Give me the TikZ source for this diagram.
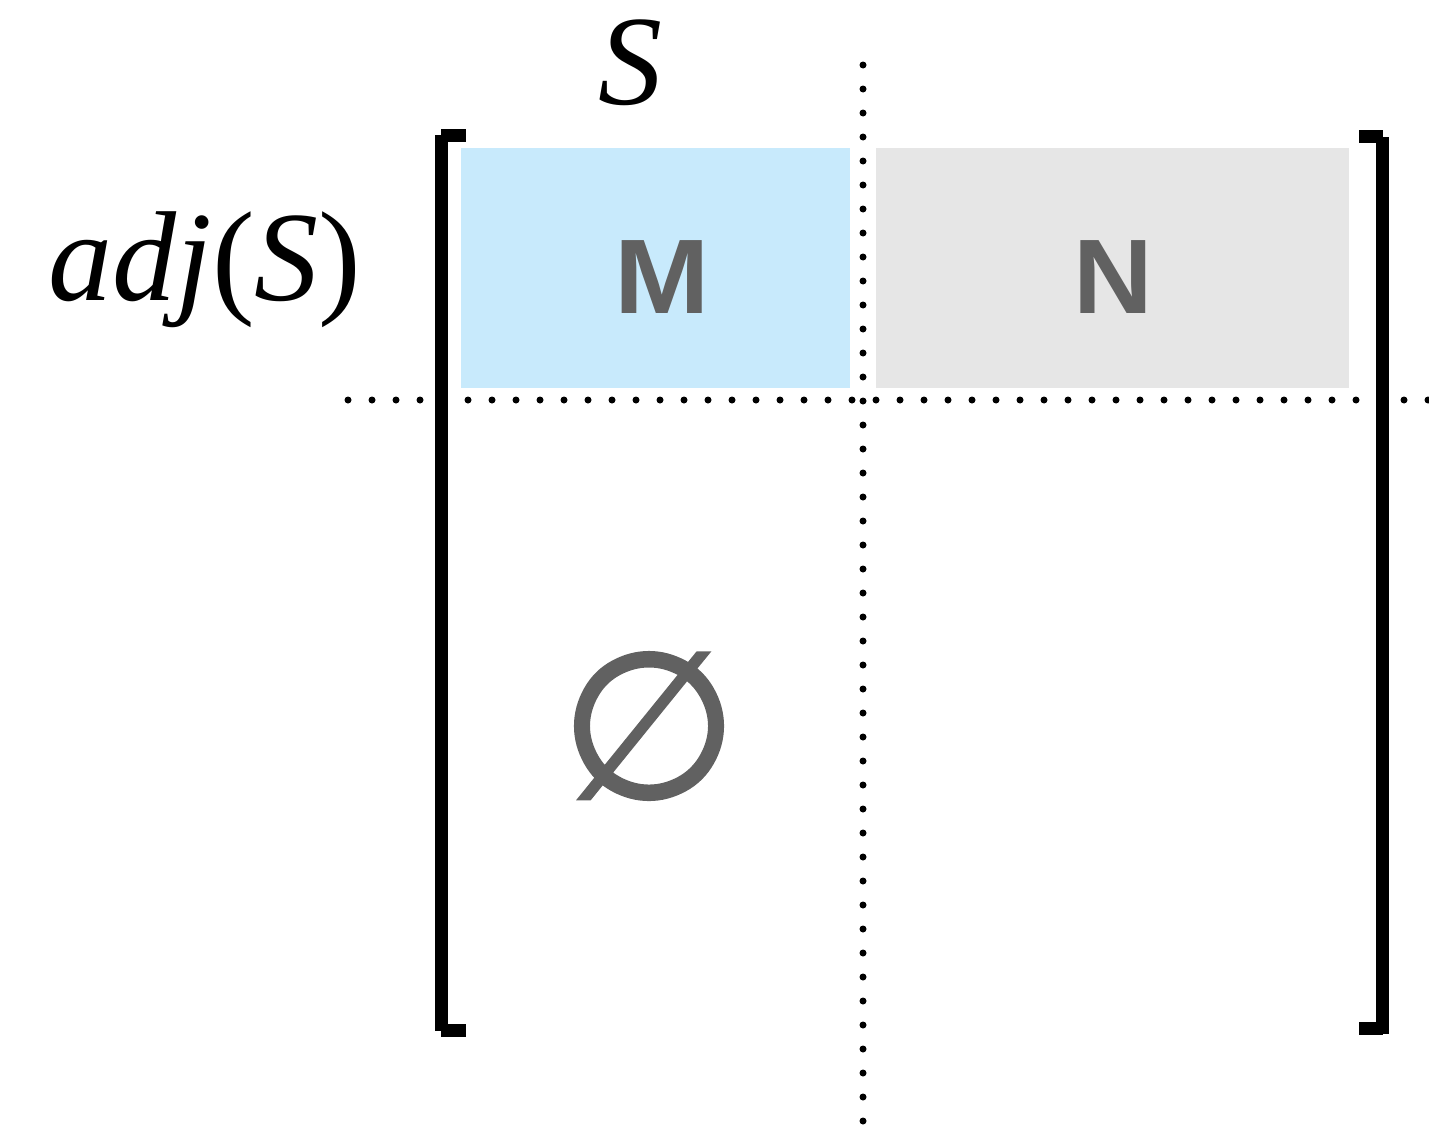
\documentclass[tikz,border=0pt]{standalone}
\usepackage{fontspec}
\setmainfont{Liberation Serif}
\newfontfamily\blocksans{Liberation Sans}
\newfontfamily\symsans[FakeBold=1.6]{DejaVu Sans}
\definecolor{cellblue}{RGB}{200,234,252}
\definecolor{cellgray}{RGB}{230,230,230}
\definecolor{inkgray}{RGB}{97,97,97}

\begin{document}
\begin{tikzpicture}[x=0.5pt,y=-0.5pt,
  cell/.style={draw=none, inner sep=0pt, minimum height=120pt},
  blocklabel/.style={inner sep=0pt, anchor=base, text=inkgray,
    font=\blocksans\bfseries\fontsize{53pt}{60pt}\selectfont},
  mathlabel/.style={inner sep=0pt, anchor=base,
    font=\fontsize{64pt}{72pt}\selectfont},
  dotline/.style={line width=3.5pt, line cap=round,
    dash pattern=on 0pt off 12pt},
  bracketbar/.style={fill=black, draw=none}]

\useasboundingbox (0,0) rectangle (1429,1124);

% blocks of the matrix
\node[cell, fill=cellblue, minimum width=194.5pt] (mblock) at (655.5,268) {};
\node[cell, fill=cellgray, minimum width=236.5pt] (nblock) at (1112.5,268) {};
\node[blocklabel, xscale=1.08] (mlabel) at (662,313) {M};
\node[blocklabel, xscale=1.04] (nlabel) at (1113,313) {N};

% empty lower-left block
\node[inner sep=0pt, text=inkgray, font=\symsans\fontsize{102pt}{110pt}\selectfont]
  (empty) at (649,726) {∅};

% row and column labels
\node[mathlabel] (slabel) at (630,104) {\textit{S}};
\node[mathlabel] (adjlabel) at (205,300) {\textit{adj}(\textit{S})};

% dotted separators
\coordinate (vtop) at (863,65);
\coordinate (vbot) at (863,1130);
\coordinate (hleft) at (348,400);
\coordinate (hright) at (1435,400);
\draw[dotline] (vtop) -- (vbot);
\draw[dotline] (hleft) -- (hright);

% left bracket
\fill[bracketbar] (435,135) rectangle (448,1031);
\fill[bracketbar] (441,129) rectangle (466,142);
\fill[bracketbar] (441,1024) rectangle (466,1037);

% right bracket
\fill[bracketbar] (1376,137) rectangle (1389,1034);
\fill[bracketbar] (1359,130) rectangle (1383,143);
\fill[bracketbar] (1359,1022) rectangle (1383,1035);

\end{tikzpicture}
\end{document}
